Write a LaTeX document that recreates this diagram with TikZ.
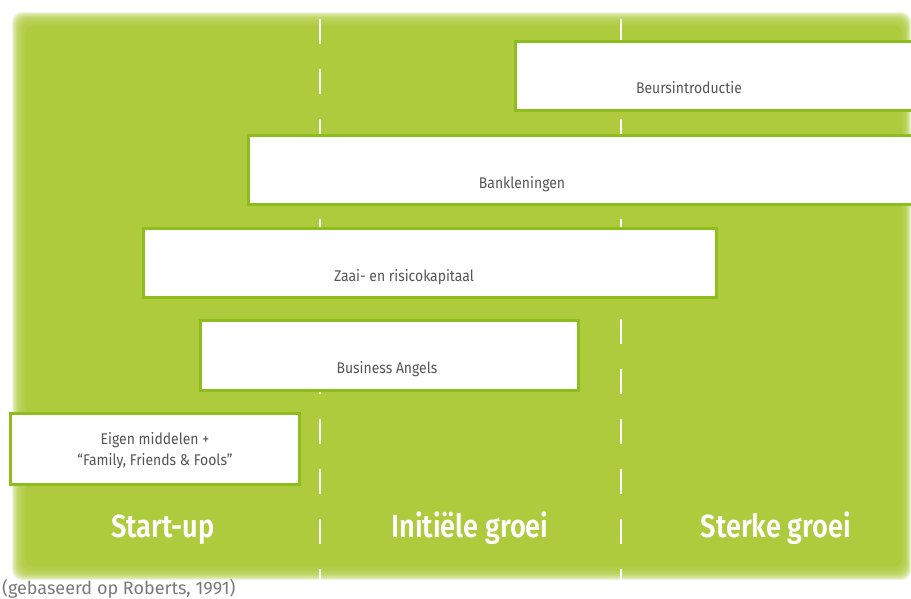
\documentclass[tikz,border=0pt]{standalone}
\usepackage{fontspec}
\setmainfont{Fira Sans}
\newfontfamily\narrowsans[FakeStretch=0.9]{Fira Sans}
\newfontfamily\phasefont[FakeStretch=0.85]{Fira Sans SemiBold}
\definecolor{leaf}{HTML}{ADCB3D}
\definecolor{leafedge}{HTML}{8DBE1E}
\definecolor{inkgray}{HTML}{555555}
\definecolor{notegray}{HTML}{7A7A7A}
\tikzset{
  fundbox/.style={draw=leafedge, line width=3pt, fill=white, inner sep=0pt},
  fundlabel/.style={font=\narrowsans\fontsize{15.5}{21}\selectfont, text=inkgray, anchor=base, align=center, inner sep=0pt},
  phase/.style={font=\phasefont\fontsize{32}{36}\selectfont, text=white, anchor=base, inner sep=0pt},
  divider/.style={draw=white, line width=2.8pt, dash pattern=on 25pt off 25pt, dash phase=-7pt},
}
\begin{document}
\begin{tikzpicture}[x=1pt, y=-1pt]
\useasboundingbox (0,0) rectangle (911,598);
% soft-edged green background
\foreach \i in {0,...,13}{
  \fill[leaf, opacity=0.2, rounded corners=10pt]
    ({12+\i},{12+\i}) rectangle ({911-0.7*\i},{580-\i});
}
\fill[leaf, rounded corners=8pt] (26,26) rectangle (902,566);
% phase dividers
\coordinate (d1top) at (320,12);
\coordinate (d1bot) at (320,582);
\coordinate (d2top) at (621,12);
\coordinate (d2bot) at (621,582);
\draw[divider] (d1top) -- (d1bot);
\draw[divider] (d2top) -- (d2bot);
% financing sources
\node[fundbox, minimum width=410pt, minimum height=69pt] (beurs) at (720,75.5) {};
\node[fundbox, minimum width=675pt, minimum height=69pt] (bank) at (585.5,169.5) {};
\node[fundbox, minimum width=573pt, minimum height=69pt] (zaai) at (429.5,262.5) {};
\node[fundbox, minimum width=378pt, minimum height=70pt] (angels) at (389,355) {};
\node[fundbox, minimum width=289pt, minimum height=71pt] (eigen) at (154.5,448.5) {};
\node[fundlabel] (beurstxt) at (689,93) {Beursintroductie};
\node[fundlabel] (banktxt) at (522,188) {Bankleningen};
\node[fundlabel] (zaaitxt) at (404,281) {Zaai- en risicokapitaal};
\node[fundlabel] (angelstxt) at (387,373) {Business Angels};
\node[fundlabel, anchor=center] (eigentxt) at (155,451) {Eigen middelen +\\“Family, Friends \& Fools”};
% phases
\node[phase] (startup) at (163,537) {Start-up};
\node[phase] (initieel) at (470,537) {Initiële groei};
\node[phase] (sterk) at (776,537) {Sterke groei};
% source note
\node[font=\fontsize{18}{21}\selectfont, text=notegray, anchor=base west, inner sep=0pt] (bron) at (2,594) {(gebaseerd op Roberts, 1991)};
\end{tikzpicture}
\end{document}
